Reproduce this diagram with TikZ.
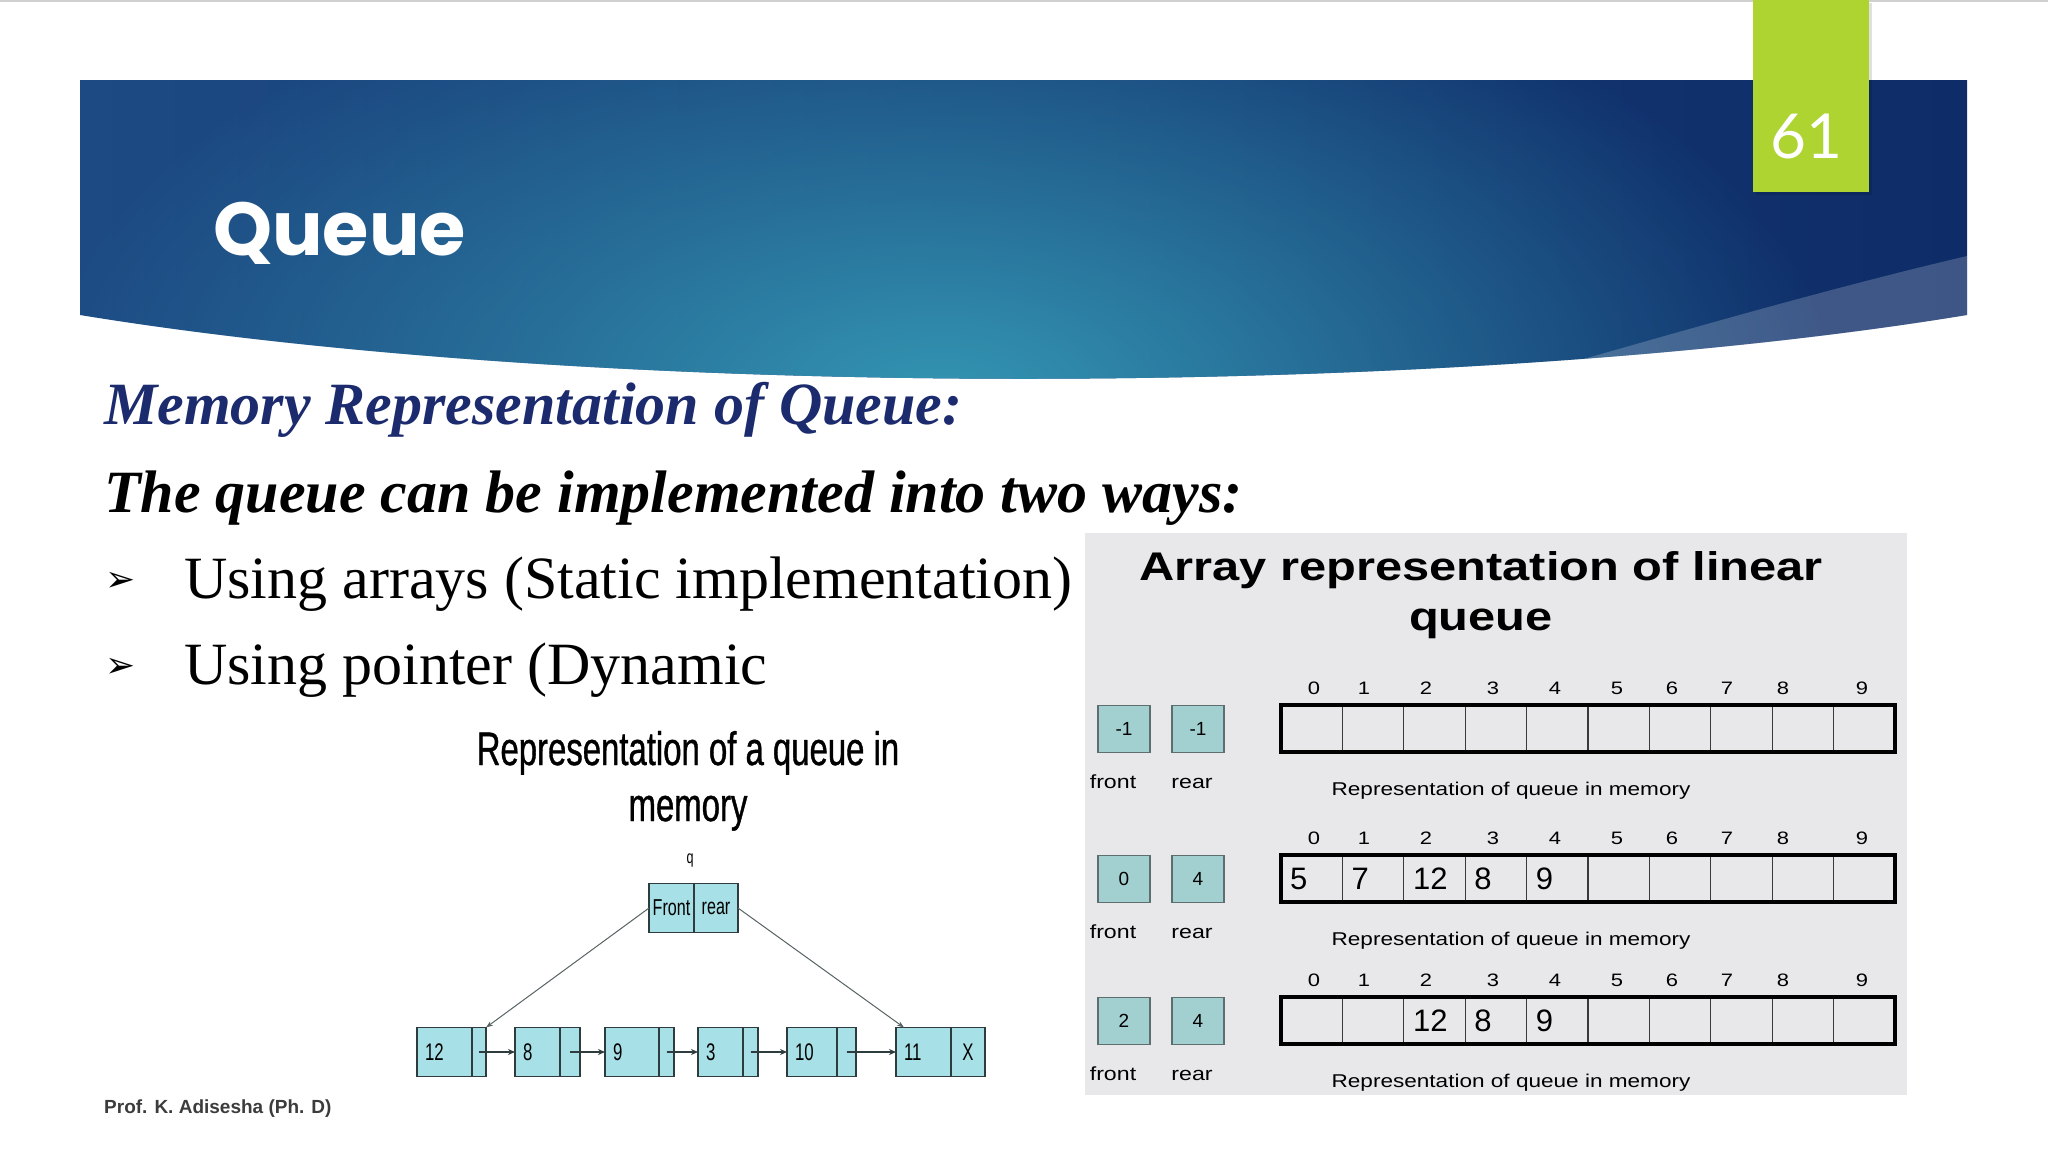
\documentclass[tikz,border=0pt]{standalone}
\usepackage{fontspec}
\setmainfont{Liberation Serif}
\newfontfamily\titlefont{Poppins}
\newfontfamily\numfont{Lato}
\newfontfamily\plainsans{Liberation Sans}
\newfontfamily\narrowsans[FakeStretch=0.7]{Liberation Sans}
\newfontfamily\narrowhead[FakeStretch=0.7,FakeBold=0.8]{Liberation Sans}
\newfontfamily\widesans[FakeStretch=1.22]{Liberation Sans}
\newfontfamily\markfont{DejaVu Sans}
\newcommand{\fsz}[1]{\fontsize{#1pt}{#1pt}\selectfont}
\usetikzlibrary{arrows.meta,calc,positioning,fadings}
\definecolor{bannerleft}{HTML}{1D4A83}
\definecolor{bannerright}{HTML}{0E2C68}
\definecolor{bannerteal}{HTML}{3496B3}
\definecolor{tabgreen}{HTML}{ADD431}
\definecolor{headblue}{HTML}{1B2B6E}
\definecolor{footgray}{HTML}{3C3C3C}
\definecolor{topline}{HTML}{D0D0D0}
\definecolor{panelgray}{HTML}{E8E8EA}
\definecolor{listfill}{HTML}{A7E0E6}
\definecolor{listline}{HTML}{2E3C3E}
\definecolor{regfill}{HTML}{A2D0D0}
\definecolor{regline}{HTML}{5E6E6E}
\definecolor{cellline}{HTML}{3A3A3A}
\tikzfading[name=tealglow, inner color=transparent!0, outer color=transparent!100]
\tikzset{
  slidetitle/.style={font=\titlefont\bfseries\fsz{75}, text=white, anchor=base west, inner sep=0pt},
  pagenumber/.style={font=\numfont\fsz{62}, text=white, anchor=base, inner sep=0pt},
  headline/.style={font=\bfseries\itshape\fsz{60}, anchor=base west, inner sep=0pt},
  bulletmark/.style={font=\markfont\fsz{36}, text=black, inner sep=0pt},
  bullettext/.style={font=\fsz{60}, text=black, anchor=base west, inner sep=0pt},
  footer/.style={font=\plainsans\bfseries\fsz{19}, text=footgray, anchor=base west, inner sep=0pt},
  listtitle/.style={font=\narrowhead\fsz{47}, text=black, anchor=base, inner sep=0pt},
  listcell/.style={draw=listline, fill=listfill, line width=1.3pt, minimum height=49pt,
    inner sep=0pt, outer sep=0pt, font=\narrowsans\fsz{24}, text=black},
  listarrow/.style={-{Stealth[length=7pt,width=6pt]}, draw=listline, line width=1.2pt},
  linkarrow/.style={-{Stealth[length=7pt,width=5pt]}, draw=listline!80, line width=1pt},
  paneltitle/.style={font=\widesans\bfseries\fsz{40}, text=black, anchor=base, inner sep=0pt},
  indexlabel/.style={font=\widesans\fsz{18}, text=black, anchor=base, inner sep=0pt},
  arraycell/.style={draw=cellline, line width=1.3pt, minimum width=61.4pt, minimum height=47pt,
    inner sep=0pt, outer sep=0pt, anchor=north west},
  arrayframe/.style={draw=black, line width=3.2pt},
  cellvalue/.style={font=\plainsans\fsz{31}, text=black, anchor=west, inner sep=0pt},
  regbox/.style={draw=regline, fill=regfill, line width=1.3pt, minimum width=52pt,
    minimum height=47pt, inner sep=0pt, font=\plainsans\fsz{19}, text=black, anchor=north},
  panellabel/.style={font=\widesans\fsz{19}, text=black, anchor=base, inner sep=0pt}
}
\begin{document}
\begin{tikzpicture}[x=1pt,y=-1pt]
  % slide frame: banner with swoosh, page tab, headings
  \useasboundingbox (0,0) rectangle (2048,1152);
  \fill[white] (0,0) rectangle (2048,1152);
  \draw[topline, line width=3pt] (0,0) -- (2048,0);
  \begin{scope}
    \clip (80,80) -- (1967,80) -- (1967,315) .. controls (1450,400) and (600,400) .. (80,315) -- cycle;
    \shade[left color=bannerleft, right color=bannerright] (80,80) rectangle (1967,400);
    \fill[bannerteal, path fading=tealglow] (940,400) ellipse (900 and 470);
    \fill[white, opacity=.2] (1967,256) .. controls (1800,295) and (1600,355) .. (1440,400) -- (1967,400) -- cycle;
  \end{scope}
  \fill[black, opacity=.12] (1756,3) rectangle (1872,195);
  \fill[tabgreen] (1753,0) rectangle (1869,192);
  \node[pagenumber] (pagenum) at (1806,158) {61};
  \node[slidetitle] (title) at (213,255) {Queue};

  \node[headline, text=headblue] (memhead) at (104,424) {Memory Representation of Queue:};
  \node[headline, text=black] (twoways) at (104,512) {The queue can be implemented into two ways:};
  \foreach \n/\ypos/\txt in {1/598/{Using arrays (Static implementation)}, 2/684/{Using pointer (Dynamic}} {
    \node[bulletmark] (mark\n) at (121,\ypos-16) {➢};
    \node[bullettext] (way\n) at (184,\ypos) {\txt};
  }
  \node[footer] (footer) at (104,1113) {Prof. K. Adisesha (Ph. D)};

  % linked queue
  \node[listtitle] (listhead) at (688,765) {Representation of a queue in};
  \node[listtitle] (listhead2) at (688,821) {memory};
  \node[listtitle, font=\narrowsans\fsz{18}] (qname) at (690,863) {q};
  \node[listcell, minimum width=45pt, font=\narrowsans\fsz{23}] (frontcell) at (671.5,908) {Front};
  \node[listcell, minimum width=44pt, font=\narrowsans\fsz{23}, right=0pt of frontcell] (rearcell) {rear};
  \foreach \n/\xa/\wdata/\wptr/\v/\p in {1/417/55/14/12/, 2/515/45/20/8/, 3/605/54/15/9/,
      4/698/45/15/3/, 5/787/50/19/10/, 6/896/55/34/11/X} {
    \pgfmathsetmacro\tw{\wdata-16}
    \node[listcell, anchor=west, minimum width=\wdata pt, text width=\tw pt, inner xsep=8pt, align=left]
      (data\n) at (\xa,1052) {\v};
    \node[listcell, minimum width=\wptr pt, right=0pt of data\n] (ptr\n) {\p};
  }
  \foreach \a/\b in {1/2,2/3,3/4,4/5,5/6}
    \draw[listarrow] (ptr\a.center) -- (data\b.west);
  \draw[linkarrow] (frontcell.west) -- (ptr1.north east);
  \draw[linkarrow] (rearcell.east) -- ($(data6.north west)+(8,0)$);

  % array queue panel
  \fill[panelgray] (1085,533) rectangle (1907,1095);
  \node[paneltitle] (paneltop) at (1481,580) {Array representation of linear};
  \node[paneltitle] (paneltop2) at (1481,630) {queue};
  \foreach \row/\yt/\fv/\rv in {1/705/-1/-1, 2/855/0/4, 3/997/2/4} {
    \foreach \i in {0,...,9}
      \node[arraycell] (cell\row-\i) at ({1281+61.4*\i},\yt) {};
    \draw[arrayframe] (cell\row-0.north west) rectangle (cell\row-9.south east);
    \foreach \i/\xi in {0/1314,1/1364,2/1426,3/1493,4/1555,5/1617,6/1672,7/1727,8/1783,9/1862}
      \node[indexlabel] (index\row-\i) at (\xi,\yt-11) {\i};
    \node[regbox] (front\row) at (1124,\yt) {\fv};
    \node[regbox] (rear\row) at (1198,\yt) {\rv};
    \node[panellabel] (frontname\row) at (1113,\yt+83) {front};
    \node[panellabel] (rearname\row) at (1192,\yt+83) {rear};
    \node[panellabel, font=\widesans\fsz{18.5}] (memname\row) at (1511,\yt+90) {Representation of queue in memory};
  }
  \foreach \row/\i/\v in {2/0/5, 2/1/7, 2/2/12, 2/3/8, 2/4/9, 3/2/12, 3/3/8, 3/4/9}
    \node[cellvalue] (value\row-\i) at ([xshift=9pt]cell\row-\i.west) {\v};
\end{tikzpicture}
\end{document}
